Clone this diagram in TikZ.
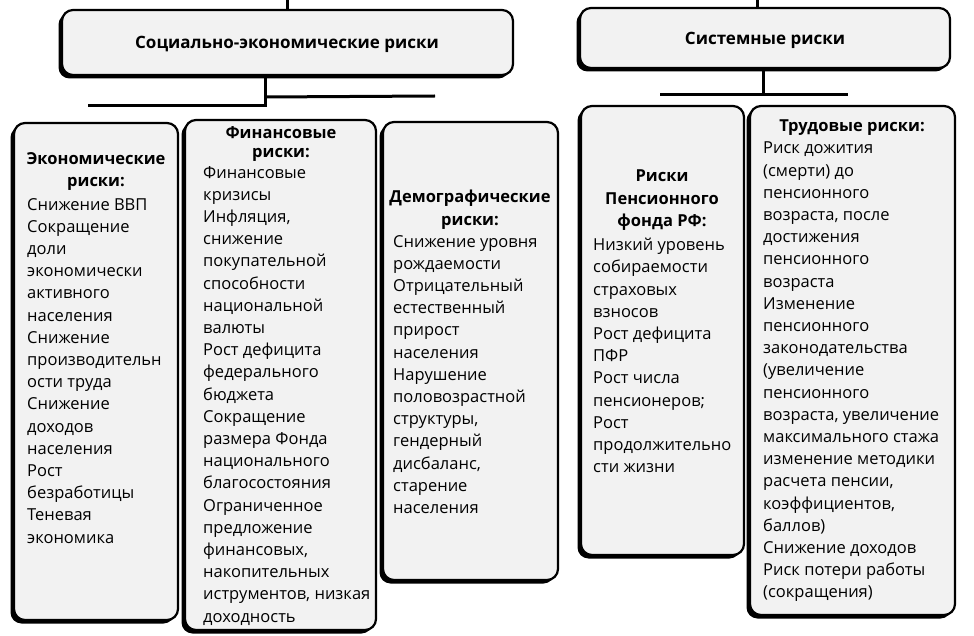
\documentclass[tikz,border=0pt]{standalone}
\usepackage{fontspec}
\setmainfont{Open Sans}
\usetikzlibrary{shadows}
\tikzset{
 box/.style={draw=black, line width=2.2pt, rounded corners=11pt, fill=black!5, inner sep=0pt,
   drop shadow={shadow xshift=-3.5pt, shadow yshift=-3.5pt, fill=black, opacity=1}},
 conn/.style={line width=3pt},
 head/.style={font=\fontsize{16.5}{22.3}\selectfont\bfseries, align=center, anchor=north, inner sep=0pt},
 body/.style={font=\fontsize{16.5}{22.2}\selectfont, align=left, anchor=north west, inner sep=0pt},
}
\newcommand{\mkbox}[5]{\node[box, minimum width=#3-#1, minimum height=#4-#2] (#5) at ({(#1+#3)/2},{(#2+#4)/2}) {};}
\begin{document}
\begin{tikzpicture}[x=1pt,y=-1pt]
\useasboundingbox (0,0) rectangle (974,636);
% top boxes
\mkbox{62}{10}{513}{75}{se}
\mkbox{580}{8}{950}{68}{sys}
\node[head, anchor=center, font=\fontsize{17}{20}\selectfont\bfseries] (seT) at (287,44) {Социально-экономические риски};
\node[head, anchor=center, font=\fontsize{17}{20}\selectfont\bfseries] (sysT) at (765,40) {Системные риски};
\coordinate (seTop) at (287,0);
\coordinate (sysTop) at (757,0);
\draw[conn] (seTop) -- (se.north -| seTop);
\draw[conn] (sysTop) -- (sys.north -| sysTop);
% connectors
\coordinate (sj) at (265,97);
\coordinate (sl) at (88,106);
\coordinate (sr) at (435,96);
\draw[conn] (se.south -| sj) -- (265,106) -- (sl);
\draw[conn] (sj) -- (sr);
\coordinate (yj) at (763,95);
\draw[conn] (sys.south -| yj) -- (yj);
\draw[conn] (660,95) -- (848,95);
% lower boxes
\mkbox{14}{123}{178}{620}{eco}
\mkbox{185}{120}{376}{630}{fin}
\mkbox{383}{122}{558}{580}{dem}
\mkbox{581}{106}{744}{555}{pfr}
\mkbox{750}{106}{955}{615}{tru}
% texts
\node[head] (ecoH) at (96,152) {Экономические\\риски:};
\node[body] (ecoB) at (27,198) {Снижение ВВП\\Сокращение\\доли\\экономически\\активного\\населения\\Снижение\\производительн\\ости труда\\Снижение\\доходов\\населения\\Рост\\безработицы\\Теневая\\экономика};
\node[head, font=\fontsize{16.5}{19}\selectfont\bfseries] (finH) at (281,126) {Финансовые\\риски:};
\node[body] (finB) at (203,166) {Финансовые\\кризисы\\Инфляция,\\снижение\\покупательной\\способности\\национальной\\валюты\\Рост дефицита\\федерального\\бюджета\\Сокращение\\размера Фонда\\национального\\благосостояния\\Ограниченное\\предложение\\финансовых,\\накопительных\\иструментов, низкая\\доходность};
\node[head] (demH) at (470,190) {Демографические\\риски:};
\node[body] (demB) at (393,235) {Снижение уровня\\рождаемости\\Отрицательный\\естественный\\прирост\\населения\\Нарушение\\половозрастной\\структуры,\\гендерный\\дисбаланс,\\старение\\населения};
\node[head] (pfrH) at (662,170) {Риски\\Пенсионного\\фонда РФ:};
\node[body] (pfrB) at (593,238) {Низкий уровень\\собираемости\\страховых\\взносов\\Рост дефицита\\ПФР\\Рост числа\\пенсионеров;\\Рост\\продолжительно\\сти жизни};
\node[head] (truH) at (852,120) {Трудовые риски:};
\node[body] (truB) at (763,142) {Риск дожития\\(смерти) до\\пенсионного\\возраста, после\\достижения\\пенсионного\\возраста\\Изменение\\пенсионного\\законодательства\\(увеличение\\пенсионного\\возраста, увеличение\\максимального стажа\\изменение методики\\расчета пенсии,\\коэффициентов,\\баллов)\\Снижение доходов\\Риск потери работы\\(сокращения)};
\end{tikzpicture}
\end{document}
